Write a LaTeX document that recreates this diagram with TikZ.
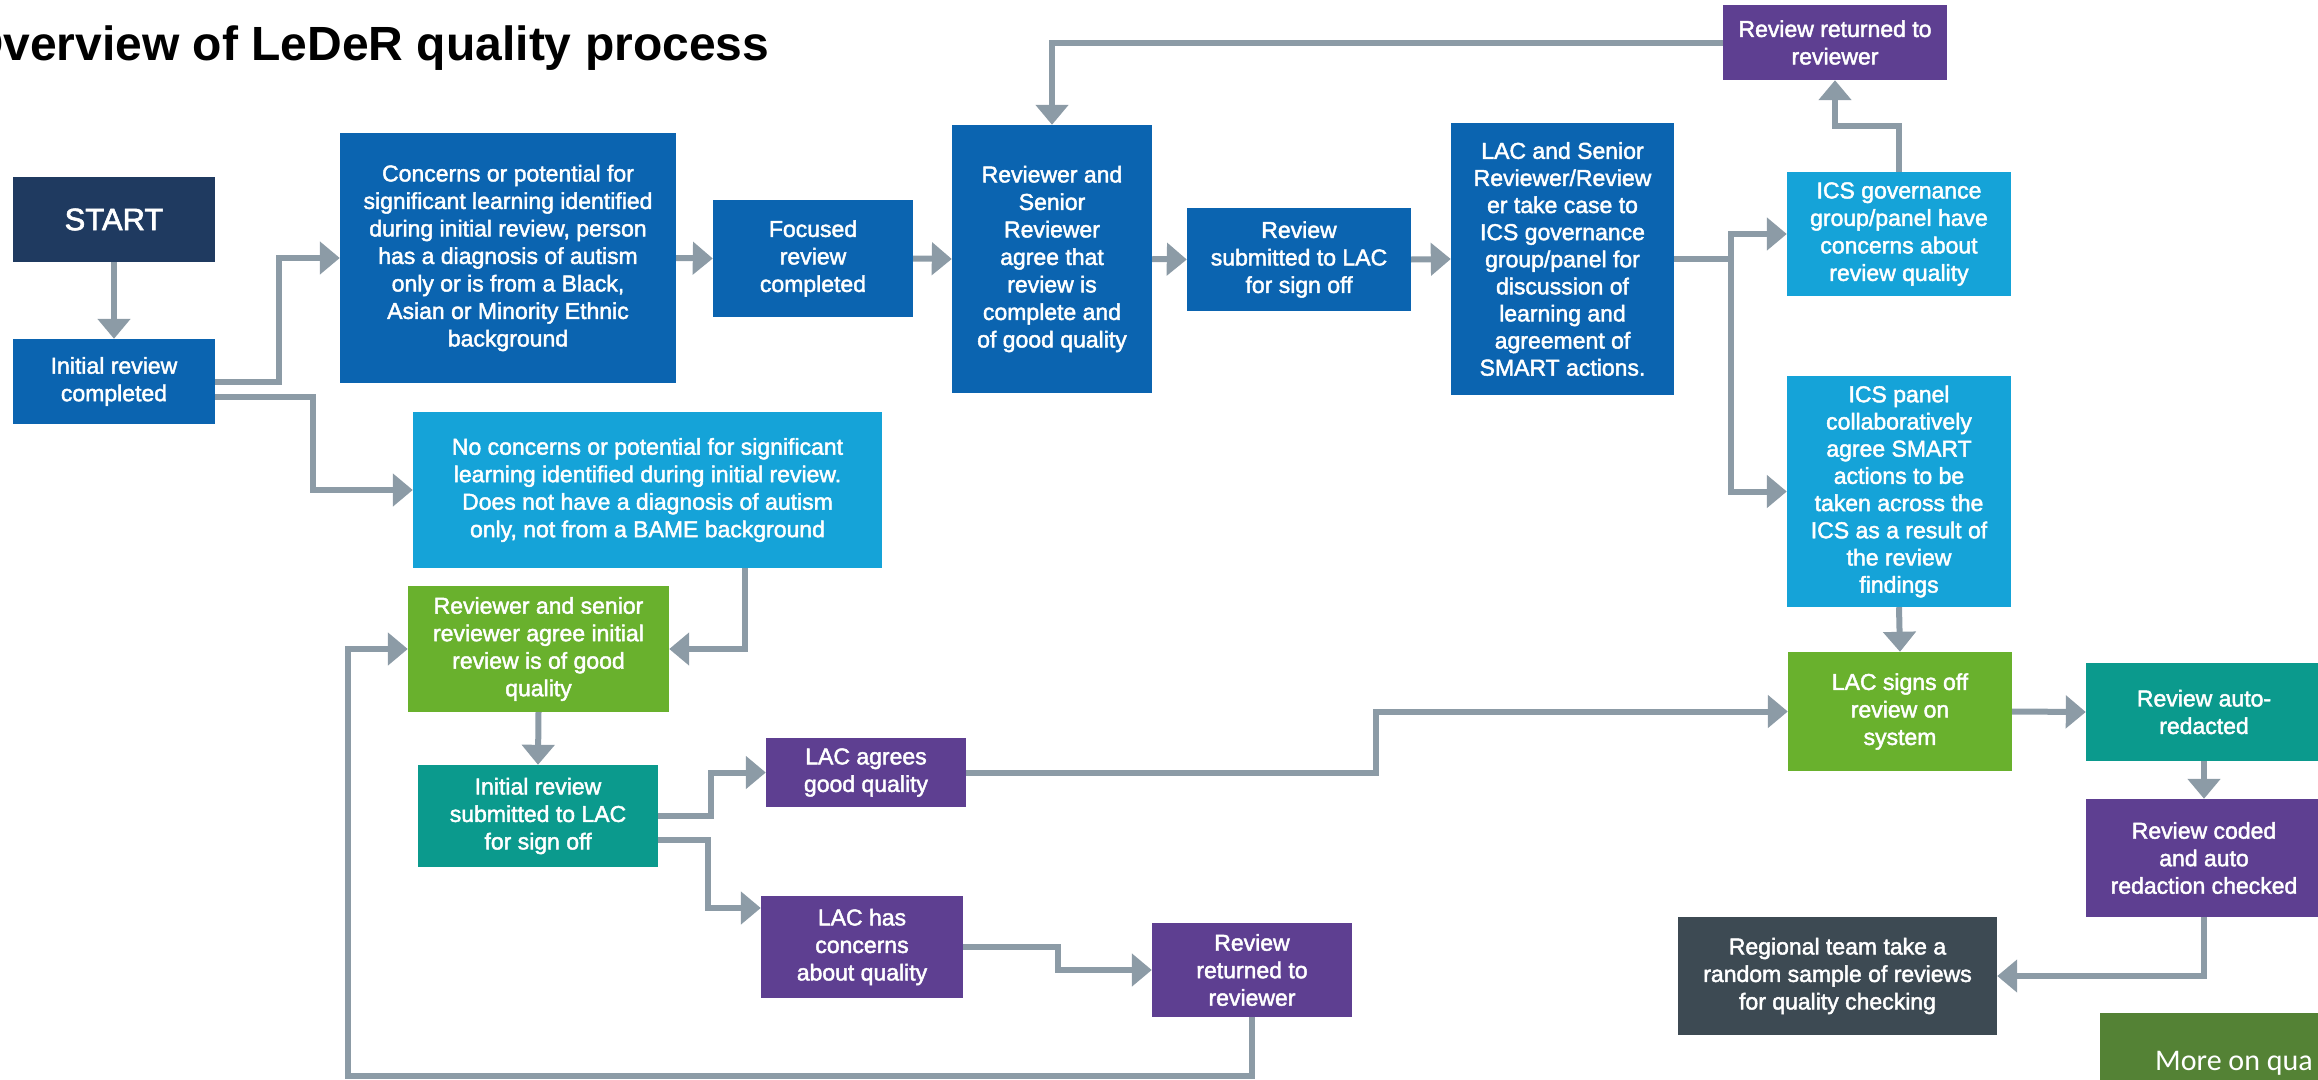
\documentclass[tikz,border=0pt]{standalone}
\usepackage{fontspec}
\setmainfont{Liberation Sans}
\newfontfamily\boxfont{Liberation Sans}[FakeBold=2]
\newfontfamily\morefont{Carlito}
\usetikzlibrary{arrows.meta,calc}
\definecolor{navy}{HTML}{1F3A60}
\definecolor{dblue}{HTML}{0B64B0}
\definecolor{lblue}{HTML}{15A3D8}
\definecolor{lgreen}{HTML}{69B12D}
\definecolor{tealbox}{HTML}{0B9A8D}
\definecolor{purp}{HTML}{5E3F91}
\definecolor{slatebox}{HTML}{3D4A53}
\definecolor{olivebox}{HTML}{548235}
\definecolor{agray}{HTML}{8C9BA6}
\begin{document}
\begin{tikzpicture}[x=1pt,y=-1pt,
  box/.style={inner sep=0pt, align=center, text=white, font={\boxfont\fontsize{23}{27.5}\selectfont}},
  arr/.style={draw=agray, line width=6pt, -{Triangle[length=20pt,width=32pt]}}]
\useasboundingbox (0,0) rectangle (2318,1079);
\node[anchor=base west, inner sep=0pt, font={\fontsize{48}{58}\selectfont\bfseries}] (title) at (-34,60) {Overview of LeDeR quality process};

\node[box, fill=navy, minimum width=202pt, minimum height=85pt, font={\boxfont\fontsize{31}{36}\selectfont}] (start) at (114,219.5) {START};
\node[box, fill=dblue, minimum width=202pt, minimum height=85pt] (init) at (114,381.5) {Initial review\\completed};
\node[box, fill=dblue, minimum width=336pt, minimum height=250pt] (concerns) at (508,258) {Concerns or potential for\\significant learning identified\\during initial review, person\\has a diagnosis of autism\\only or is from a Black,\\Asian or Minority Ethnic\\background};
\node[box, fill=dblue, minimum width=200pt, minimum height=117pt] (focused) at (813,258.5) {Focused\\review\\completed};
\node[box, fill=dblue, minimum width=200pt, minimum height=268pt] (reviewer) at (1052,259) {Reviewer and\\Senior\\Reviewer\\agree that\\review is\\complete and\\of good quality};
\node[box, fill=dblue, minimum width=224pt, minimum height=103pt] (submitted) at (1299,259.5) {Review\\submitted to LAC\\for sign off};
\node[box, fill=dblue, minimum width=223pt, minimum height=272pt, font={\boxfont\fontsize{23}{27.1}\selectfont}] (lacsenior) at (1562.5,259) {LAC and Senior\\Reviewer/Review\\er take case to\\ICS governance\\group/panel for\\discussion of\\learning and\\agreement of\\SMART actions.};
\node[box, fill=purp, minimum width=224pt, minimum height=75pt] (rettop) at (1835,42.5) {Review returned to\\reviewer};
\node[box, fill=lblue, minimum width=224pt, minimum height=124pt] (icsgov) at (1899,234) {ICS governance\\group/panel have\\concerns about\\review quality};
\node[box, fill=lblue, minimum width=224pt, minimum height=231pt, font={\boxfont\fontsize{23}{27.2}\selectfont}] (icspanel) at (1899,491.5) {ICS panel\\collaboratively\\agree SMART\\actions to be\\taken across the\\ICS as a result of\\the review\\findings};
\node[box, fill=lgreen, minimum width=224pt, minimum height=119pt] (signoff) at (1900,711.5) {LAC signs off\\review on\\system};
\node[box, fill=tealbox, minimum width=236pt, minimum height=98pt] (autored) at (2204,712) {Review auto-\\redacted};
\node[box, fill=purp, minimum width=236pt, minimum height=118pt] (coded) at (2204,858) {Review coded\\and auto\\redaction checked};
\node[box, fill=slatebox, minimum width=319pt, minimum height=118pt] (regional) at (1837.5,976) {Regional team take a\\random sample of reviews\\for quality checking};
\node[box, fill=lblue, minimum width=469pt, minimum height=156pt] (noconc) at (647.5,490) {No concerns or potential for significant\\learning identified during initial review.\\Does not have a diagnosis of autism\\only, not from a BAME background};
\node[box, fill=lgreen, minimum width=261pt, minimum height=126pt] (agree) at (538.5,649) {Reviewer and senior\\reviewer agree initial\\review is of good\\quality};
\node[box, fill=tealbox, minimum width=240pt, minimum height=102pt] (initsub) at (538,816) {Initial review\\submitted to LAC\\for sign off};
\node[box, fill=purp, minimum width=200pt, minimum height=69pt] (lacagree) at (866,772.5) {LAC agrees\\good quality};
\node[box, fill=purp, minimum width=202pt, minimum height=102pt] (lacconc) at (862,947) {LAC has\\concerns\\about quality};
\node[box, fill=purp, minimum width=200pt, minimum height=94pt] (retbot) at (1252,970) {Review\\returned to\\reviewer};
\node[fill=olivebox, inner sep=0pt, minimum width=230pt, minimum height=80pt, anchor=north west] (more) at (2100,1013) {};
\node[anchor=base west, inner sep=0pt, text=white, font={\morefont\fontsize{30}{36}\selectfont}] (moretext) at (2155,1070) {More on qua};

\draw[arr] (start.south) -- (init.north);
\draw[arr] (init.east) -- ++(64,0) |- (concerns.west);
\draw[arr] ([yshift=-15pt]init.east) -- ++(98,0) |- (noconc.west);
\draw[arr] (concerns.east) -- (focused.west);
\draw[arr] (focused.east) -- (reviewer.west);
\draw[arr] (reviewer.east) -- (submitted.west);
\draw[arr] (submitted.east) -- (lacsenior.west);
\draw[arr] (lacsenior.east) -- ++(57,0) |- (icsgov.west);
\draw[arr] (lacsenior.east) -- ++(57,0) |- (icspanel.west);
\draw[arr] (icsgov.north) -- ++(0,-46) -| (rettop.south);
\draw[arr] (rettop.west) -| (reviewer.north);
\draw[arr] (icspanel.south) -- (signoff.north);
\draw[arr] (signoff.east) -- (autored.west);
\draw[arr] (autored.south) -- (coded.north);
\draw[arr] (coded.south) |- (regional.east);
\draw[arr] (agree.south) -- (initsub.north);
\draw[arr] ([xshift=97.5pt]noconc.south) |- (agree.east);
\draw[arr] (initsub.east) -- ++(53,0) |- (lacagree.west);
\draw[arr] ([yshift=-24pt]initsub.east) -- ++(50,0) |- ([yshift=39pt]lacconc.west);
\draw[arr] (lacconc.east) -- ++(95,0) |- (retbot.west);
\coordinate (loop) at (348,1075.5);
\draw[arr] (retbot.south) |- (loop) |- (agree.west);
\draw[arr] (lacagree.east) -- ++(410,0) |- (signoff.west);
\end{tikzpicture}
\end{document}
